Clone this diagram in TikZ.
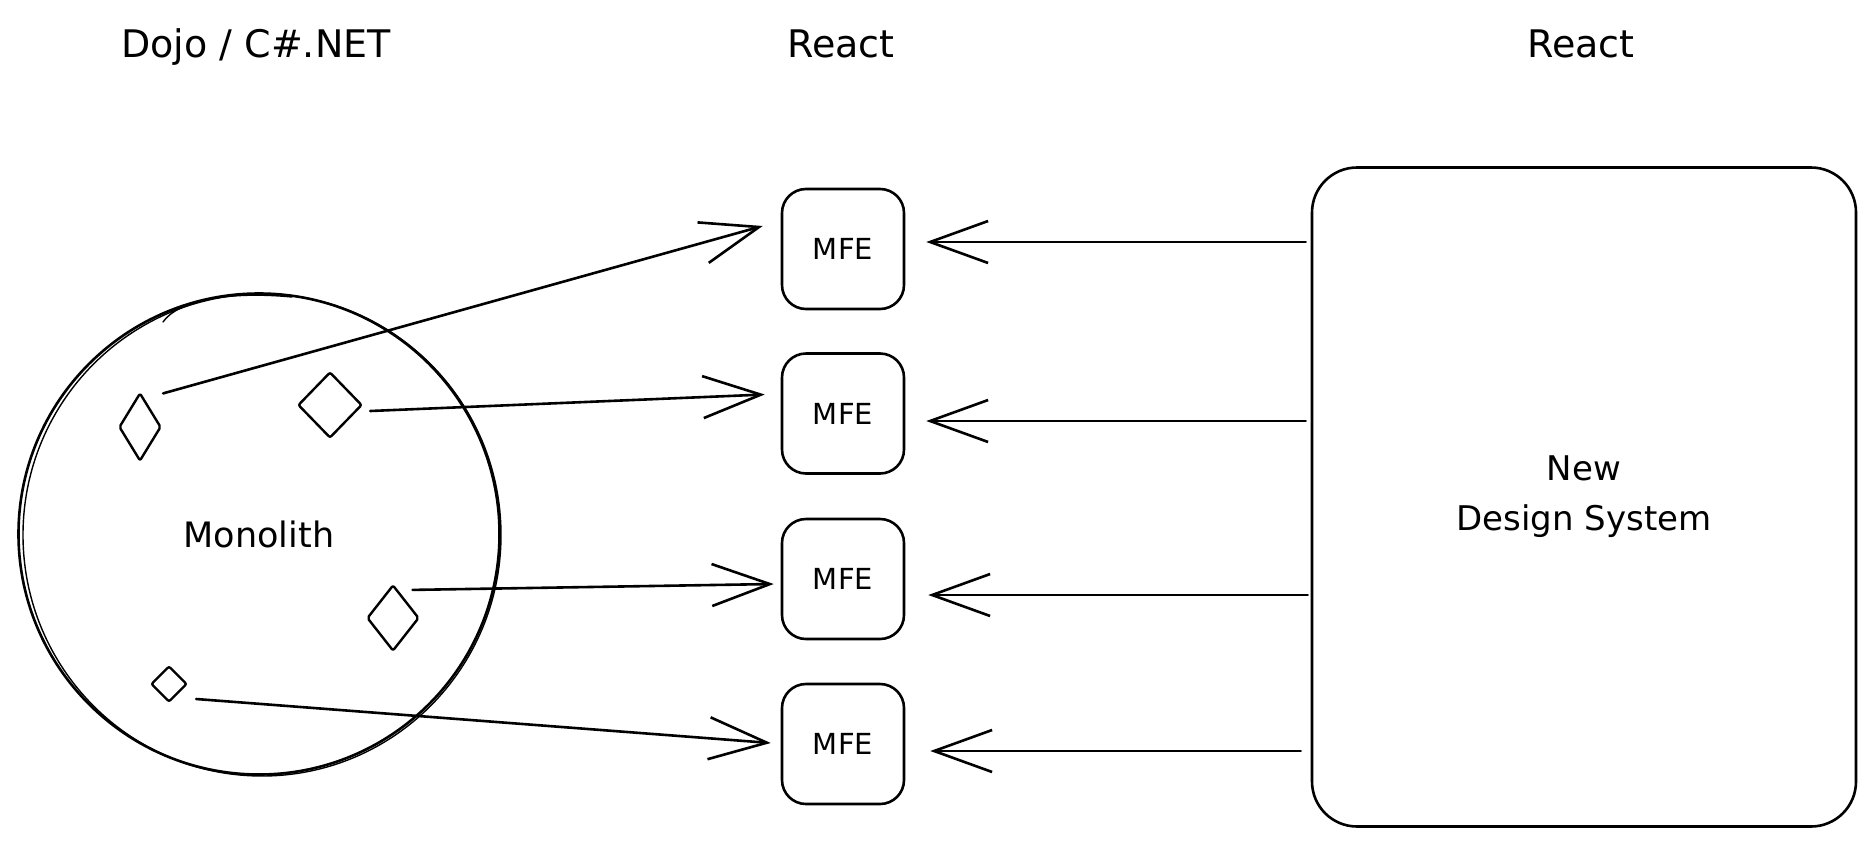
\documentclass[tikz,border=0pt]{standalone}
\usepackage{fontspec}
\setmainfont{DejaVu Sans}
\usetikzlibrary{arrows.meta,shapes.geometric,calc}
\begin{document}
\begin{tikzpicture}[x=1pt,y=-1pt, line width=2.6pt, line cap=round, line join=round,
  title/.style={font=\fontsize{38}{44}\selectfont, anchor=base, inner sep=0pt},
  mfe/.style={draw, rounded corners=24pt, minimum width=122pt, minimum height=120pt, inner sep=0pt, font=\fontsize{29}{32}\selectfont},
  gem/.style={draw, diamond, inner sep=0pt, rounded corners=2pt, line width=2.4pt},
  arr/.style={-{Straight Barb[length=58pt,width=42pt]}, line width=2.6pt}]
\fill[white] (0,0) rectangle (1876,846);
\useasboundingbox (0,0) rectangle (1876,846);

% titles
\node[title] (t1) at (256,57) {Dojo / C\#.NET};
\node[title] (t2) at (841,57) {React};
\node[title] (t3) at (1581,57) {React};

% monolith
\node[draw, circle, minimum size=481pt, inner sep=0pt, font=\fontsize{35}{40}\selectfont] (mono) at (259,534) {Monolith};
\draw[line width=1.4pt] ([shift={(3,1)}]mono.center) ellipse [x radius=239pt, y radius=241pt];
\draw[line width=1.4pt] (163,322) .. controls (178,300) and (230,291) .. (292,297);

% diamonds
\node[gem, minimum width=42pt, minimum height=68pt] (d1) at (140,427) {};
\node[gem, minimum width=64pt, minimum height=66pt] (d2) at (330,405) {};
\node[gem, minimum width=52pt, minimum height=66pt] (d3) at (393,618) {};
\node[gem, minimum width=36pt, minimum height=36pt] (d4) at (169,684) {};

% MFEs
\node[mfe] (m1) at (843,249) {MFE};
\node[mfe] (m2) at (843,413.5) {MFE};
\node[mfe] (m3) at (843,579) {MFE};
\node[mfe] (m4) at (843,744) {MFE};

% design system
\node[draw, rounded corners=45pt, minimum width=544pt, minimum height=659pt, align=center, font=\fontsize{34}{50}\selectfont] (ds) at (1584,497) {New\\Design System};

% left arrows
\draw[arr] ([shift={(12,-16)}]d1.north east) -- ([shift={(-18,-23)}]m1.west);
\draw[arr] ([shift={(7,6)}]d2.east) -- ([shift={(-16,-19)}]m2.west);
\draw[arr] ([shift={(6,-11)}]d3.north east) -- ([shift={(-7,5)}]m3.west);
\draw[arr] ([shift={(8,15)}]d4.east) -- ([shift={(-10,-1)}]m4.west);

% right arrows
\coordinate (r1) at ([shift={(21,-7)}]m1.east);
\coordinate (r2) at ([shift={(21,7.5)}]m2.east);
\coordinate (r3) at ([shift={(23,16)}]m3.east);
\coordinate (r4) at ([shift={(25,7)}]m4.east);
\draw[arr] ([xshift=-5pt]ds.west |- r1) -- (r1);
\draw[arr] ([xshift=-5pt]ds.west |- r2) -- (r2);
\draw[arr] ([xshift=-3pt]ds.west |- r3) -- (r3);
\draw[arr] ([xshift=-10pt]ds.west |- r4) -- (r4);
\end{tikzpicture}
\end{document}
